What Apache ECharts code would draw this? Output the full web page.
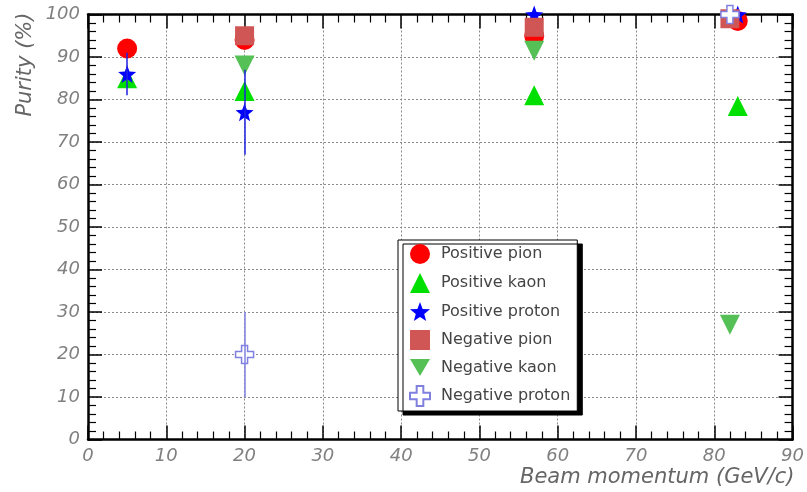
<!DOCTYPE html>
<html>
<head>
<meta charset="utf-8">
<script src="https://cdn.jsdelivr.net/npm/echarts@6/dist/echarts.min.js"></script>
<style>
  html, body { margin: 0; padding: 0; background: #fff; }
  #chart { width: 807px; height: 492px; }
</style>
</head>
<body>
<div id="chart"></div>
<script>
// --- data: [beam momentum GeV/c, purity %] ---
var posPion = [[5, 92], [20, 94], [57, 95], [83, 98.5]];
var posKaon = [[5, 85], [20, 82], [57, 81], [83, 78.5]];
var posProton = [[5, 86], [20, 77], [57, 100], [83, 100]];
var posProtonErr = [5, 10, 2, 1];
var negPion = [[20, 95], [57, 97], [82, 99]];
var negKaon = [[20, 88], [57, 91.5], [82, 27]];
var negProton = [[20, 20], [82, 100]];
var negProtonErr = [10, 1];

var xTicks = [0, 10, 20, 30, 40, 50, 60, 70, 80, 90];
var yTicks = [0, 10, 20, 30, 40, 50, 60, 70, 80, 90, 100];

var STAR = 'path://M10,0 L12.47,6.6 L19.51,6.91 L13.99,11.3 L15.88,18.09 L10,14.2 L4.12,18.09 L6.01,11.3 L0.49,6.91 L7.53,6.6 Z';
var TRI_DOWN = 'path://M0,0 L20,0 L10,17 Z';
var CROSS = 'path://M6,0 L12,0 L12,6 L18,6 L18,12 L12,12 L12,18 L6,18 L6,12 L0,12 L0,6 L6,6 Z';

// vertical error bars as markLine segments in data coordinates
function errBars(pts, errs, color) {
  return {
    silent: true,
    symbol: 'none',
    animation: false,
    label: { show: false },
    lineStyle: { color: color, width: 1.5, type: 'solid' },
    emphasis: { disabled: true },
    data: pts.map(function(p, i) {
      return [{ coord: [p[0], p[1] - errs[i]] }, { coord: [p[0], p[1] + errs[i]] }];
    })
  };
}

function scatter(name, data, symbol, size, itemStyle, markLine) {
  var s = {
    name: name,
    type: 'scatter',
    data: data,
    symbol: symbol,
    symbolSize: size,
    itemStyle: itemStyle
  };
  if (markLine) s.markLine = markLine;
  return s;
}

// each axis gets its own fresh objects; top/right copies only carry the frame and ticks
function axis(ticksArr, position, withLabels) {
  var a = {
    type: 'value',
    min: ticksArr[0],
    max: ticksArr[ticksArr.length - 1],
    interval: 10,
    position: position,
    axisLine: { show: true, onZero: false, lineStyle: { color: '#000', width: 2.5 } },
    axisTick: { show: true, inside: true, length: 14, lineStyle: { color: '#000', width: 1.5 } },
    minorTick: { show: true, splitNumber: 5, length: 8, lineStyle: { color: '#000', width: 1.2 } },
    splitLine: { show: false },
    axisLabel: { show: false }
  };
  if (withLabels) {
    a.splitLine = { show: true, lineStyle: { color: '#8a8a8a', width: 1, type: [2, 2] } };
    a.axisLabel = {
      show: true, margin: 8, color: '#808080', fontSize: 18,
      fontStyle: 'italic', fontFamily: 'DejaVu Sans'
    };
  }
  return a;
}

var xBottom = axis(xTicks, 'bottom', true);
xBottom.name = 'Beam momentum (GeV/c)';
xBottom.nameLocation = 'end';
xBottom.nameGap = 2;
xBottom.nameMoveOverlap = false;
xBottom.nameTextStyle = {
  color: '#666', fontSize: 21, fontStyle: 'italic', fontFamily: 'DejaVu Sans',
  align: 'right', verticalAlign: 'top', padding: [28, 0, 0, 0]
};

var yLeft = axis(yTicks, 'left', true);
yLeft.name = 'Purity (%)';
yLeft.nameLocation = 'end';
yLeft.nameRotate = 90;
yLeft.nameGap = 2;
yLeft.nameMoveOverlap = false;
yLeft.nameTextStyle = {
  color: '#666', fontSize: 21, fontStyle: 'italic', fontFamily: 'DejaVu Sans',
  align: 'right', verticalAlign: 'bottom', padding: [0, 0, 52, 0]
};

var chart = echarts.init(document.getElementById('chart'), null, { renderer: 'canvas' });
chart.setOption({
  animation: false,
  backgroundColor: '#fff',
  grid: { left: 88, right: 12, top: 14.5, bottom: 52.5 },
  xAxis: [xBottom, axis(xTicks, 'top', false)],
  yAxis: [yLeft, axis(yTicks, 'right', false)],
  legend: {
    orient: 'vertical',
    left: 398, top: 240,
    padding: [4, 7, 4, 11],
    itemWidth: 20, itemHeight: 20, itemGap: 9,
    backgroundColor: '#fff',
    borderColor: '#000', borderWidth: 1,
    shadowColor: '#000', shadowBlur: 0, shadowOffsetX: 5, shadowOffsetY: 4,
    textStyle: { color: '#444', fontSize: 16, fontFamily: 'DejaVu Sans', padding: [0, 0, 0, 6] },
    data: ['Positive pion', 'Positive kaon', 'Positive proton', 'Negative pion', 'Negative kaon', 'Negative proton']
  },
  series: [
    scatter('Positive pion', posPion, 'circle', 20, { color: '#ff0000', opacity: 1 }),
    scatter('Positive kaon', posKaon, 'triangle', 20, { color: '#00e000', opacity: 1 }),
    scatter('Positive proton', posProton, STAR, 18, { color: '#0000ff', opacity: 1 },
      errBars(posProton, posProtonErr, '#2020e0')),
    scatter('Negative pion', negPion, 'rect', 19, { color: '#d05555', opacity: 1 }),
    scatter('Negative kaon', negKaon, TRI_DOWN, 20, { color: '#55c055', opacity: 1 }),
    scatter('Negative proton', negProton, CROSS, 18, { color: '#fff', borderColor: '#8080e0', borderWidth: 1.5, opacity: 1 },
      errBars(negProton, negProtonErr, '#8080e0'))
  ]
});
</script>
</body>
</html>
